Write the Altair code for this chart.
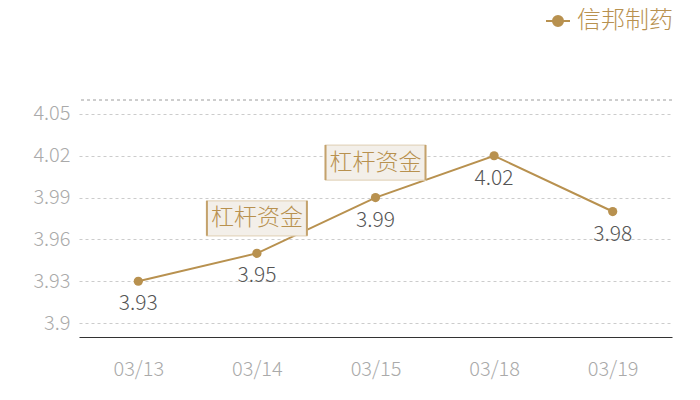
import altair as alt
import pandas as pd

dates = ["03/13", "03/14", "03/15", "03/18", "03/19"]
values = [3.93, 3.95, 3.99, 4.02, 3.98]
series_name = "信邦制药"
note_dates = ["03/14", "03/15"]
note_values = [3.95, 3.99]
note_texts = ["杠杆资金", "杠杆资金"]
y_ticks = [3.9, 3.93, 3.96, 3.99, 4.02, 4.05]
y_min, y_max = 3.89, 4.06

df = pd.DataFrame({"date": dates, "value": values, "series": [series_name] * len(dates)})
notes = pd.DataFrame({"date": note_dates, "value": note_values, "text": note_texts})

COLOR = "#b8914f"
FONT = "Noto Sans CJK SC"

x_enc = alt.X("date:N", sort=dates, scale=alt.Scale(paddingInner=0, paddingOuter=0),
              axis=alt.Axis(title=None, labelAngle=0, ticks=False, labelFontSize=20,
                            labelColor="#aaaaaa", labelPadding=22, domainColor="#333333",
                            domainWidth=1.2, labelFont=FONT, grid=False,
                            labelFontWeight=300))
y_scale = alt.Scale(domain=[y_min, y_max], nice=False, zero=False)
y_axis = alt.Axis(title=None, values=y_ticks, ticks=False, domain=False,
                  format=".2~f", grid=True,
                  labelFontSize=20, labelColor="#aaaaaa", labelPadding=9,
                  labelFont=FONT, gridColor="#cccccc", gridDash=[3, 3],
                  gridWidth=1, labelOverlap=False, labelFontWeight=300)
y_enc = alt.Y("value:Q", scale=y_scale, axis=y_axis)

line = alt.Chart(df).mark_line(color=COLOR, strokeWidth=2).encode(x=x_enc, y=y_enc)

top_grid = alt.Chart(df).mark_rule(color="#cccccc", strokeDash=[3, 3], strokeWidth=1).encode(
    y=alt.datum(y_max, scale=y_scale, axis=y_axis))

legend_shape = "M-1,0L1,0M-0.42,0A0.42,0.42 0 1 1 0.42,0A0.42,0.42 0 1 1 -0.42,0Z"
points = alt.Chart(df).mark_point(filled=True, size=85, opacity=1, strokeWidth=2).encode(
    x=alt.X("date:N", sort=dates),
    y=y_enc,
    color=alt.Color("series:N", scale=alt.Scale(range=[COLOR]),
                    legend=alt.Legend(title=None, orient="none", legendX=466, legendY=-92,
                                      symbolType=legend_shape, symbolSize=576,
                                      symbolStrokeWidth=2, symbolStrokeColor=COLOR,
                                      symbolFillColor=COLOR,
                                      labelFontSize=24, labelColor=COLOR, labelFont=FONT,
                                      labelOffset=6, labelLimit=200, labelFontWeight=300)),
)

labels = alt.Chart(df).mark_text(fontSize=21, color="#555555", font=FONT, dy=23,
                                 fontWeight=300).encode(
    x=alt.X("date:N", sort=dates), y="value:Q", text=alt.Text("value:Q", format=".2f"))

box_shape = "M-1,-0.35L1,-0.35L1,0.35L-1,0.35Z"
boxes = alt.Chart(notes).mark_point(shape=box_shape, size=10000, filled=True,
                                    fill="#f3efe9", stroke="#e4d6bf", strokeWidth=1.2,
                                    opacity=1, yOffset=-35).encode(
    x=alt.X("date:N", sort=dates), y="value:Q")
sides = alt.Chart(notes).mark_point(shape="M-1,-0.35L-1,0.35M1,-0.35L1,0.35", size=10000,
                                    filled=False, stroke="#c4a26c", strokeWidth=2,
                                    opacity=1, yOffset=-35).encode(
    x=alt.X("date:N", sort=dates), y="value:Q")
note_text = alt.Chart(notes).mark_text(fontSize=23, color=COLOR, font=FONT,
                                       yOffset=-35, baseline="middle",
                                       fontWeight=300).encode(
    x=alt.X("date:N", sort=dates), y="value:Q", text="text:N")

chart = alt.layer(line, top_grid, points, labels, boxes, sides, note_text).properties(
    width=593, height=237,
    background="white",
    autosize=alt.AutoSizeParams(type="none"),
    padding={"left": 71, "top": 92, "right": 20, "bottom": 50},
).configure_view(strokeWidth=0)

chart.save("out.html", embed_options={"renderer": "svg", "actions": False})
